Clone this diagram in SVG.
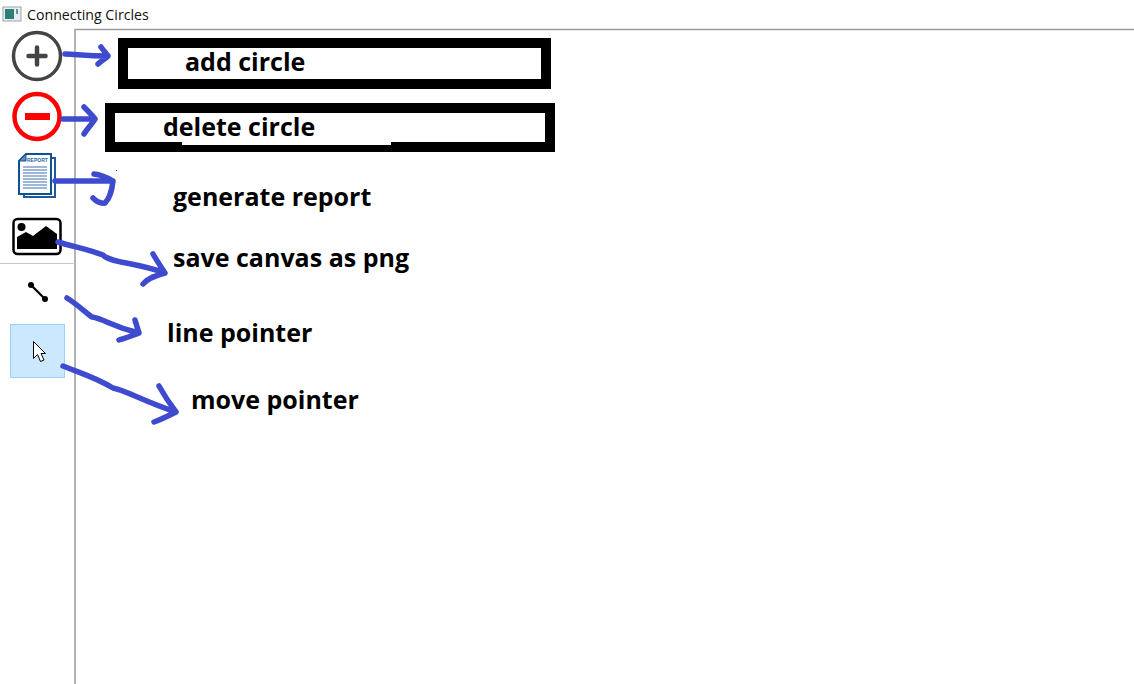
<svg xmlns="http://www.w3.org/2000/svg" width="1134" height="684" viewBox="0 0 1134 684">
<style>
.lbl{font-family:"Open Sans","Noto Sans","DejaVu Sans",sans-serif;font-weight:700;font-size:25px;fill:#000}
.ink{fill:none;stroke:#3f4bce;stroke-width:5.500;stroke-linecap:round;stroke-linejoin:round}
.box{fill:#fff;stroke:#000;stroke-width:10}
</style>
<rect width="1134" height="684" fill="#fff"/>
<g id="window">
<rect x="3" y="7" width="18" height="14" fill="#e8eef0" stroke="#9aa5aa"/>
<rect x="5" y="9" width="9" height="10" fill="#2f7f78"/>
<rect x="16" y="9" width="2" height="5" fill="#6a8f9a"/>
<text x="27" y="20" font-family="'Open Sans','Noto Sans',sans-serif" font-size="14.200" fill="#111">Connecting Circles</text>
<path d="M75 684V29.500H1134" fill="none" stroke="#9a9aa0" stroke-width="1.500"/>
<path d="M0 263.500H75" fill="none" stroke="#c8c8c8" stroke-width="1"/>
</g>
<g id="add-icon">
<circle cx="37" cy="56" r="23.500" fill="#fff" stroke="#444" stroke-width="3.500"/>
<path d="M28.500 56H45.500M37 47.500V64.500" stroke="#444" stroke-width="4.500" stroke-linecap="round"/>
</g>
<g id="delete-icon">
<circle cx="37" cy="116.500" r="22.500" fill="#fff" stroke="#f00" stroke-width="4.500"/>
<rect x="25" y="113" width="25" height="7" fill="#f00"/>
</g>
<g id="report-icon">
<path d="M24 158H55V197H24Z" fill="#fff" stroke="#1c5a9c" stroke-width="2"/>
<path d="M26 154H51V194H19V161Z" fill="#fff" stroke="#10528f" stroke-width="2"/>
<path d="M19 161H26V154Z" fill="#5f8fc0" stroke="#10528f" stroke-width="1"/>
<text x="27" y="162" font-family="'Liberation Sans',sans-serif" font-size="5" font-weight="700" fill="#2a6aa8">REPORT</text>
<path d="M23 167H47M23 170H47M23 173H47M23 176H47M23 179H47M23 182H47M23 185H47M23 188H47" stroke="#7f9fcb" stroke-width="1.700"/>
</g>
<g id="image-icon">
<rect x="13.500" y="219" width="47" height="35" rx="4" fill="#fff" stroke="#000" stroke-width="2.500"/>
<circle cx="21.500" cy="227" r="4" fill="#000"/>
<path d="M17 249V237L26 232L33 236L46 226L57 234V249Z" fill="#000"/>
</g>
<g id="line-icon">
<path d="M31 285L45 299" stroke="#000" stroke-width="2.200"/>
<circle cx="31" cy="285" r="3" fill="#000"/>
<circle cx="45" cy="299" r="3" fill="#000"/>
</g>
<g id="pointer-icon">
<rect x="10.500" y="324.500" width="54" height="53" fill="#cce8ff" stroke="#99d1ff"/>
<path d="M33.500 341.500V358.500L37.500 354.500L40.500 361.500L44 360L41 353.500H45.500Z" fill="#fff" stroke="#000" stroke-width="1"/>
</g>
<g id="add-circle">
<rect class="box" x="123" y="43" width="423" height="41"/>
<text class="lbl" x="185" y="71">add circle</text>
</g>
<g id="delete-circle">
<rect class="box" x="110" y="108" width="440" height="39"/>
<rect x="182" y="141" width="209" height="4" fill="#fff"/>
<text class="lbl" x="163" y="136">delete circle</text>
</g>
<g id="generate-report"><text class="lbl" x="173" y="206">generate report</text></g>
<g id="save-canvas"><text class="lbl" x="173" y="267">save canvas as png</text></g>
<g id="line-pointer"><text class="lbl" x="167" y="342">line pointer</text></g>
<g id="move-pointer"><text class="lbl" x="191" y="409">move pointer</text></g>
<rect x="116" y="170" width="1" height="1" fill="#555"/>
<g id="connectors">
<path class="ink" d="M65 54C75 54 85 56 108 56M101 47C103 50 106 53 108 56C105 59 101 61 98 64"/>
<path class="ink" d="M63 119H95M84 107C88 111 92 115 95 119C92 124 87 129 84 134"/>
<path class="ink" d="M55 181H113M94 174C103 175 108 178 113 181C112 188 111 197 105 203C100 204 96 201 93 198"/>
<path class="ink" d="M58 242C75 247 90 250 103 255C110 263 135 262 165 273M153 254C157 261 161 267 165 273C158 275 149 277 143 284"/>
<path class="ink" d="M67 298C78 305 85 312 92 317C105 319 110 326 139 333M135 320C136 324 138 329 139 333C132 336 125 338 119 340"/>
<path class="ink" d="M63 366C80 373 95 377 113 388C125 390 145 402 176 412M159 386C164 395 170 404 176 412C168 416 160 420 154 422"/>
</g>
</svg>
